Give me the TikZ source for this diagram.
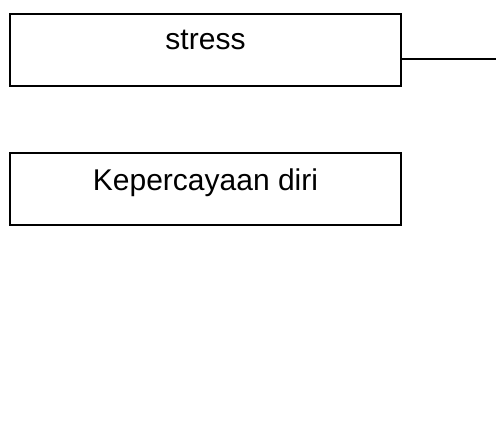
\documentclass[tikz,border=0pt]{standalone}
\usepackage{fontspec}
\setmainfont{Liberation Sans}
\usetikzlibrary{positioning}
\tikzset{
    varbox/.style={draw, line width=1.3pt, minimum width=391pt, minimum height=72pt,
        inner sep=0pt},
    varlabel/.style={anchor=base, inner sep=0pt, font=\fontsize{30}{34}\selectfont},
}
\begin{document}
\begin{tikzpicture}[x=1pt, y=1pt]
\useasboundingbox (0,0) rectangle (496,-435);
% boxes
\node[varbox] (stress) at (205.5,-50) {};
\node[varbox] (pd) at (205.5,-189) {};
% labels
\node[varlabel] (stresstxt) at ([yshift=-36pt]stress.north) {stress};
\node[varlabel] (pdtxt) at ([yshift=-38pt]pd.north) {Kepercayaan diri};
% connector
\coordinate (out) at (496,-59);
\draw[line width=1.3pt] (stress.east |- out) -- (out);
\end{tikzpicture}
\end{document}
